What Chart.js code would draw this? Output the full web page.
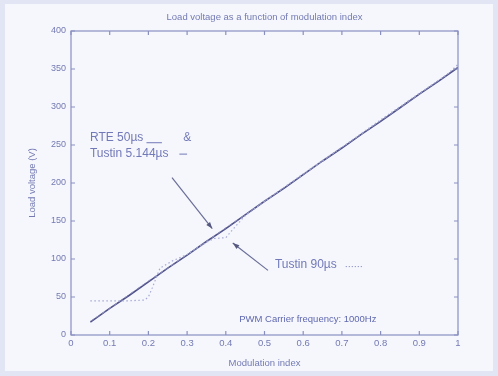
<!DOCTYPE html>
<html>
<head>
<meta charset="utf-8">
<script src="https://cdn.jsdelivr.net/npm/chart.js@4/dist/chart.umd.min.js"></script>
<style>
  html, body { margin: 0; padding: 0; background: #e2e5f3; }
  #wrap { width: 498px; height: 376px; position: relative; }
  canvas { filter: blur(0.4px); }
</style>
</head>
<body>
<div id="wrap"><canvas id="chart" width="498" height="376"></canvas></div>
<script>
// modulation index samples
const modIndex = [0.05, 0.10, 0.15, 0.20, 0.25, 0.30, 0.35, 0.40, 0.45, 0.50,
                  0.55, 0.60, 0.65, 0.70, 0.75, 0.80, 0.85, 0.90, 0.95, 1.00];
// RTE 50us (solid)
const rte50 = [17, 35, 52, 70, 88, 105, 123, 140, 158, 176,
               193, 211, 229, 246, 264, 281, 299, 317, 334, 352];
// Tustin 5.144us (dashed)
const tustin5 = [18, 35, 53, 71, 88, 106, 123, 141, 158, 176,
                 194, 211, 229, 247, 264, 282, 299, 317, 335, 353];
// Tustin 90us (dotted, stepwise at low index)
const tustin90Index = [0.05, 0.10, 0.15, 0.19, 0.20, 0.21, 0.23, 0.26, 0.30, 0.35,
                       0.37, 0.40, 0.42, 0.45, 0.50, 0.60, 0.70, 0.80, 0.90, 0.97, 1.00];
const tustin90 = [45, 45, 45, 46, 50, 62, 88, 97, 106, 122,
                  127, 128, 140, 157, 176, 212, 247, 283, 318, 342, 356];

const xTicks = [0, 0.1, 0.2, 0.3, 0.4, 0.5, 0.6, 0.7, 0.8, 0.9, 1];
const yTicks = [0, 50, 100, 150, 200, 250, 300, 350, 400];

const axisColor = '#8a8fc2';
const textColor = '#737ab3';
const lineColor = '#4f5088';

const toPts = (xs, ys) => xs.map((x, i) => ({ x: x, y: ys[i] }));

// panel background, box and inward tick marks
const framePlugin = {
  id: 'frame',
  beforeDraw(chart) {
    const c = chart.ctx;
    c.save();
    c.fillStyle = '#e2e5f3';
    c.fillRect(0, 0, chart.width, chart.height);
    c.fillStyle = '#f6f7fc';
    c.fillRect(5, 4, chart.width - 10, chart.height - 9);
    c.restore();
  },
  afterDraw(chart) {
    const c = chart.ctx;
    const a = chart.chartArea;
    const xs = chart.scales.x, ys = chart.scales.y;
    c.save();
    c.strokeStyle = axisColor;
    c.lineWidth = 1.2;
    c.strokeRect(a.left, a.top, a.right - a.left, a.bottom - a.top);
    c.beginPath();
    xTicks.forEach(v => {
      const px = xs.getPixelForValue(v);
      c.moveTo(px, a.bottom); c.lineTo(px, a.bottom - 4);
      c.moveTo(px, a.top); c.lineTo(px, a.top + 4);
    });
    yTicks.forEach(v => {
      const py = ys.getPixelForValue(v);
      c.moveTo(a.left, py); c.lineTo(a.left + 4, py);
      c.moveTo(a.right, py); c.lineTo(a.right - 4, py);
    });
    c.stroke();
    c.restore();
  }
};

function arrow(c, x1, y1, x2, y2) {
  const ang = Math.atan2(y2 - y1, x2 - x1);
  c.beginPath();
  c.moveTo(x1, y1);
  c.lineTo(x2, y2);
  c.stroke();
  c.beginPath();
  c.moveTo(x2, y2);
  c.lineTo(x2 - 7 * Math.cos(ang - 0.35), y2 - 7 * Math.sin(ang - 0.35));
  c.lineTo(x2 - 7 * Math.cos(ang + 0.35), y2 - 7 * Math.sin(ang + 0.35));
  c.closePath();
  c.fill();
}

// text labels and arrows, placed in data coordinates
const notesPlugin = {
  id: 'notes',
  afterDatasetsDraw(chart) {
    const c = chart.ctx;
    const xs = chart.scales.x, ys = chart.scales.y;
    const X = v => xs.getPixelForValue(v);
    const Y = v => ys.getPixelForValue(v);
    c.save();

    // title
    c.fillStyle = textColor;
    c.font = '9.5px "Liberation Sans", Arial, sans-serif';
    c.textAlign = 'center';
    c.textBaseline = 'middle';
    c.fillText('Load voltage as a function of modulation index', (chart.chartArea.left + chart.chartArea.right) / 2, 17);

    // legend-like notes
    c.font = '12px "Liberation Sans", Arial, sans-serif';
    c.textAlign = 'left';
    c.fillStyle = '#7279b8';
    c.fillText('RTE 50µs', X(0.049), Y(259));
    c.fillText('&', X(0.29), Y(259));
    c.fillText('Tustin 5.144µs', X(0.049), Y(238));
    c.fillText('Tustin 90µs', X(0.527), Y(93));

    c.strokeStyle = '#7279b8';
    c.lineWidth = 1;
    c.beginPath();
    c.moveTo(X(0.195), Y(253)); c.lineTo(X(0.235), Y(253));
    c.stroke();
    c.beginPath();
    c.moveTo(X(0.28), Y(238)); c.lineTo(X(0.3), Y(238));
    c.stroke();
    c.setLineDash([1, 2]);
    c.beginPath();
    c.moveTo(X(0.71), Y(90)); c.lineTo(X(0.755), Y(90));
    c.stroke();
    c.setLineDash([]);

    // arrows
    c.strokeStyle = '#6a6e98';
    c.fillStyle = '#55597f';
    c.lineWidth = 1.2;
    arrow(c, X(0.261), Y(207), X(0.365), Y(140));
    arrow(c, X(0.509), Y(85), X(0.418), Y(121));

    // carrier frequency note
    c.fillStyle = '#5f68b0';
    c.font = '9.5px "Liberation Sans", Arial, sans-serif';
    c.textAlign = 'center';
    c.fillText('PWM Carrier frequency: 1000Hz', X(0.612), Y(21));
    c.restore();
  }
};

new Chart(document.getElementById('chart'), {
  type: 'line',
  data: {
    datasets: [
      {
        label: 'Tustin 90µs',
        data: toPts(tustin90Index, tustin90),
        borderColor: '#a3a9d4',
        borderWidth: 1.2,
        borderDash: [1.5, 2.5],
        pointRadius: 0,
        fill: false
      },
      {
        label: 'Tustin 5.144µs',
        data: toPts(modIndex, tustin5),
        borderColor: '#8a8dbb',
        borderWidth: 1,
        borderDash: [4, 3],
        pointRadius: 0,
        fill: false
      },
      {
        label: 'RTE 50µs',
        data: toPts(modIndex, rte50),
        borderColor: lineColor,
        borderWidth: 1.6,
        pointRadius: 0,
        fill: false
      }
    ]
  },
  options: {
    responsive: false,
    animation: false,
    layout: { padding: { left: 0, right: 40, top: 31, bottom: 0 } },
    plugins: {
      legend: { display: false },
      title: { display: false },
      tooltip: { enabled: false }
    },
    scales: {
      x: {
        type: 'linear',
        min: 0,
        max: 1,
        afterBuildTicks: s => { s.ticks = xTicks.map(v => ({ value: v })); },
        afterFit: s => { s.height = 41; },
        grid: { display: false, drawTicks: false },
        border: { display: false },
        ticks: {
          color: textColor,
          padding: 3,
          font: { family: '"Liberation Sans", Arial, sans-serif', size: 9.5 },
          callback: v => String(v)
        },
        title: {
          display: true,
          text: 'Modulation index',
          color: textColor,
          font: { family: '"Liberation Sans", Arial, sans-serif', size: 9.5 },
          padding: { top: 0, bottom: 7 }
        }
      },
      y: {
        min: 0,
        max: 400,
        afterBuildTicks: s => { s.ticks = yTicks.map(v => ({ value: v })); },
        afterFit: s => { s.width = 71; },
        grid: { display: false, drawTicks: false },
        border: { display: false },
        ticks: {
          color: textColor,
          padding: 5,
          font: { family: '"Liberation Sans", Arial, sans-serif', size: 9 }
        },
        title: {
          display: true,
          text: 'Load voltage (V)',
          color: textColor,
          font: { family: '"Liberation Sans", Arial, sans-serif', size: 9.5 },
          padding: { top: 27, bottom: 0 }
        }
      }
    }
  },
  plugins: [framePlugin, notesPlugin]
});
</script>
</body>
</html>
